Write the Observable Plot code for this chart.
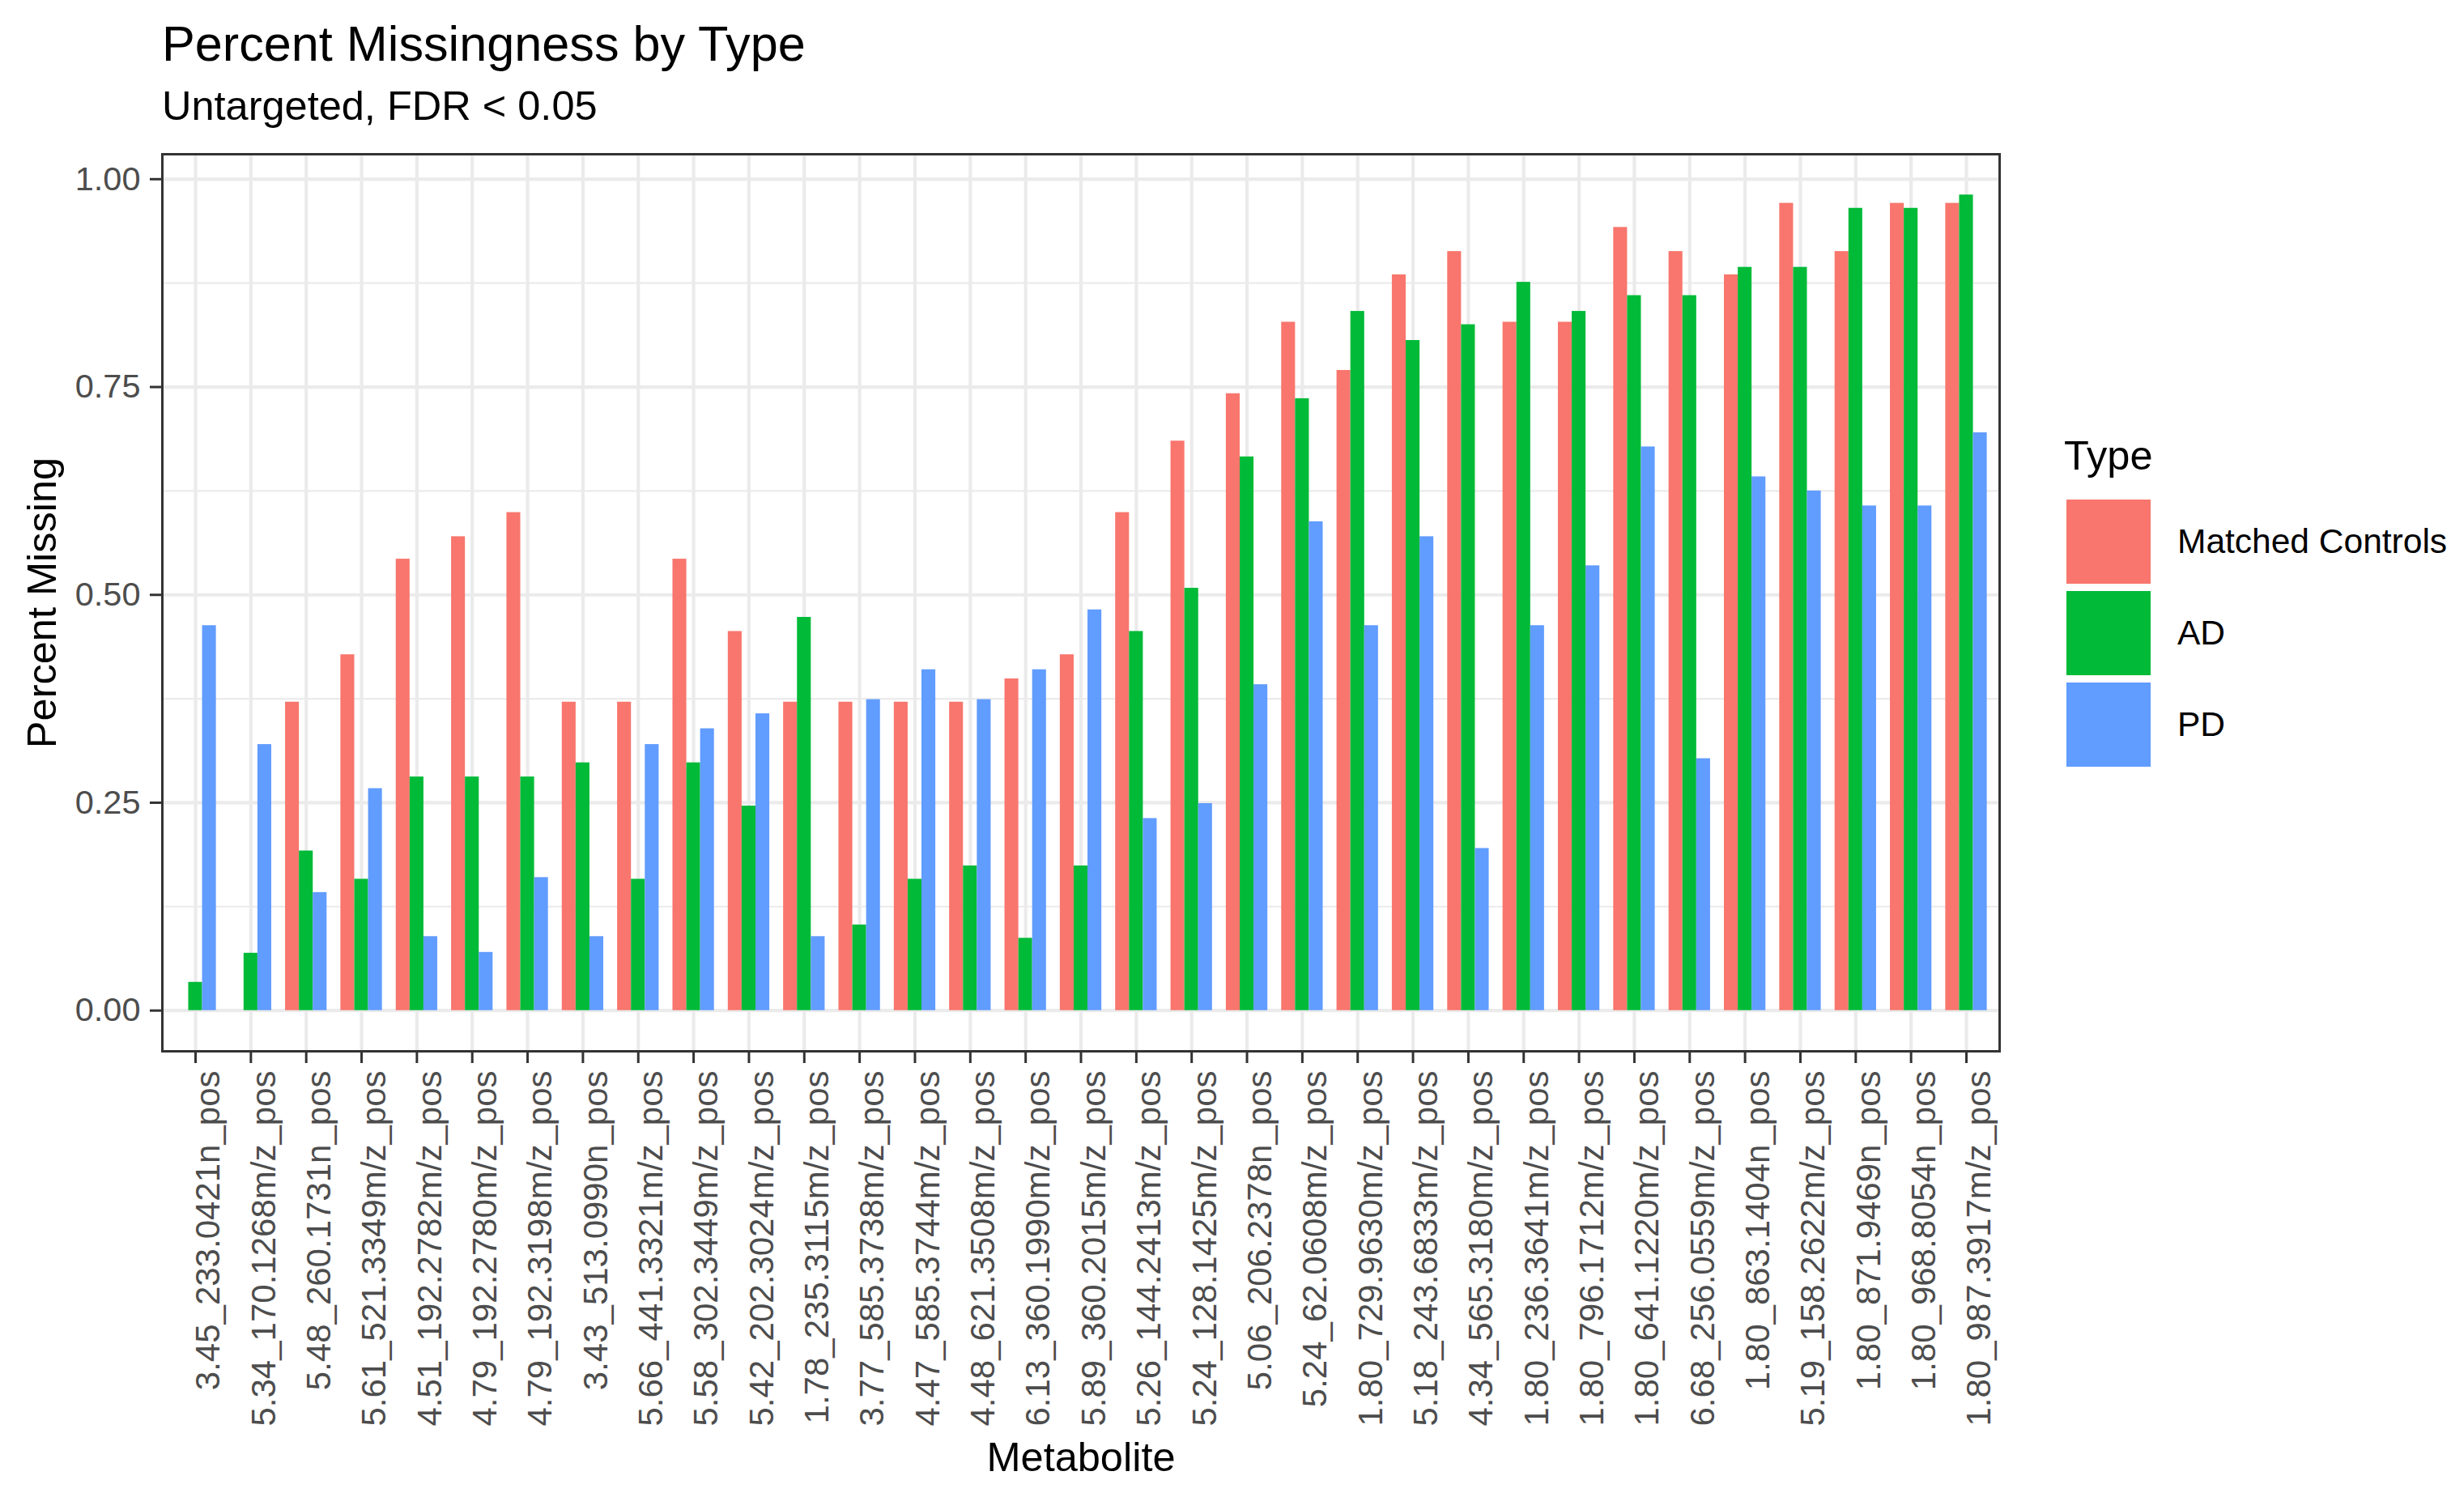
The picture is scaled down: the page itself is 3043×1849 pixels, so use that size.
<!DOCTYPE html>
<html>
<head>
<meta charset="utf-8">
<script src="https://cdn.jsdelivr.net/npm/d3@7"></script>
<script src="https://cdn.jsdelivr.net/npm/@observablehq/plot@0.6"></script>
<style>
  html, body { margin: 0; padding: 0; background: #fff; }
  #page { position: relative; width: 3043px; height: 1849px; font-family: "Liberation Sans", Arial, sans-serif; color: #000; overflow: hidden; }
  #title { position: absolute; left: 200px; top: 24px; font-size: 61.2px; line-height: 61.2px; white-space: nowrap; }
  #subtitle { position: absolute; left: 200px; top: 106px; font-size: 50.5px; line-height: 50.5px; white-space: nowrap; }
  #chart { position: absolute; left: 0; top: 160px; }
  #legend-title { position: absolute; left: 2549px; top: 538px; font-size: 50.5px; line-height: 50.5px; }
  .key { position: absolute; left: 2552px; width: 104px; height: 104px; }
  .lab { position: absolute; left: 2689px; font-size: 42.5px; line-height: 42.5px; white-space: nowrap; }
</style>
</head>
<body>
<div id="page">
  <div id="title">Percent Missingness by Type</div>
  <div id="subtitle">Untargeted, FDR &lt; 0.05</div>
  <div id="chart"></div>
  <div id="legend"></div>
</div>
<script>
// ---- data ----
const metabolites = [
  "3.45_233.0421n_pos", "5.34_170.1268m/z_pos", "5.48_260.1731n_pos", "5.61_521.3349m/z_pos",
  "4.51_192.2782m/z_pos", "4.79_192.2780m/z_pos", "4.79_192.3198m/z_pos", "3.43_513.0990n_pos",
  "5.66_441.3321m/z_pos", "5.58_302.3449m/z_pos", "5.42_202.3024m/z_pos", "1.78_235.3115m/z_pos",
  "3.77_585.3738m/z_pos", "4.47_585.3744m/z_pos", "4.48_621.3508m/z_pos", "6.13_360.1990m/z_pos",
  "5.89_360.2015m/z_pos", "5.26_144.2413m/z_pos", "5.24_128.1425m/z_pos", "5.06_206.2378n_pos",
  "5.24_62.0608m/z_pos", "1.80_729.9630m/z_pos", "5.18_243.6833m/z_pos", "4.34_565.3180m/z_pos",
  "1.80_236.3641m/z_pos", "1.80_796.1712m/z_pos", "1.80_641.1220m/z_pos", "6.68_256.0559m/z_pos",
  "1.80_863.1404n_pos", "5.19_158.2622m/z_pos", "1.80_871.9469n_pos", "1.80_968.8054n_pos",
  "1.80_987.3917m/z_pos"
];
const types = ["Matched Controls", "AD", "PD"];
const matchedControls = [
  0, 0, 0.371, 0.428, 0.543, 0.570, 0.599, 0.371, 0.371, 0.543, 0.456, 0.371,
  0.371, 0.371, 0.371, 0.399, 0.428, 0.599, 0.685, 0.742, 0.828, 0.770, 0.885, 0.913,
  0.828, 0.828, 0.942, 0.913, 0.885, 0.971, 0.913, 0.971, 0.971
];
const ad = [
  0.034, 0.069, 0.192, 0.158, 0.281, 0.281, 0.281, 0.298, 0.158, 0.298, 0.246, 0.473,
  0.103, 0.158, 0.174, 0.087, 0.174, 0.456, 0.508, 0.666, 0.736, 0.841, 0.806, 0.825,
  0.876, 0.841, 0.860, 0.860, 0.894, 0.894, 0.965, 0.965, 0.981
];
const pd = [
  0.463, 0.320, 0.142, 0.267, 0.089, 0.070, 0.160, 0.089, 0.320, 0.339, 0.357, 0.089,
  0.374, 0.410, 0.374, 0.410, 0.482, 0.231, 0.249, 0.392, 0.588, 0.463, 0.570, 0.195,
  0.463, 0.535, 0.678, 0.303, 0.642, 0.625, 0.607, 0.607, 0.695
];
const yTicks = [0, 0.25, 0.5, 0.75, 1];
const yMinorTicks = [0.125, 0.375, 0.625, 0.875];
const typeColors = ["#F8766D", "#00BA38", "#619CFF"];

// ---- table for the library ----
const series = [matchedControls, ad, pd];
const rows = metabolites.flatMap((m, i) =>
  types.map((t, k) => ({metabolite: m, type: t, value: series[k][i]}))
);

// ---- layout ----
const W = 3043, H = 1689;
const mL = 200, mR = 574, mT = 30, mB = 551;
const pIn = 0.25, pOut = 0.225;   // dodge width 0.75, ggplot discrete expansion 0.6
const step = (W - mL - mR) / (metabolites.length - pIn + 2 * pOut);
const barW = step * (1 - pIn) / types.length;
const gridColor = "#EBEBEB";

const barMark = (k) => Plot.barY(rows.filter(d => d.type === types[k]), {
  x: "metabolite",
  y: "value",
  fill: "type",
  insetLeft: k * barW,
  insetRight: (types.length - 1 - k) * barW
});

const chart = Plot.plot({
  width: W,
  height: H,
  marginLeft: mL,
  marginRight: mR,
  marginTop: mT,
  marginBottom: mB,
  style: {fontFamily: "'Liberation Sans', Arial, sans-serif", background: "white", overflow: "visible"},
  x: {type: "band", domain: metabolites, paddingInner: pIn, paddingOuter: pOut, align: 0.5, round: false},
  y: {domain: [-0.049, 1.03]},
  color: {domain: types, range: typeColors},
  marks: [
    Plot.ruleY(yMinorTicks, {stroke: gridColor, strokeWidth: 2.1}),
    Plot.ruleY(yTicks, {stroke: gridColor, strokeWidth: 4.2}),
    Plot.ruleX(metabolites, {x: d => d, stroke: gridColor, strokeWidth: 4.2}),
    barMark(0),
    barMark(1),
    barMark(2),
    Plot.frame({stroke: "#333333", strokeWidth: 3}),
    Plot.axisY(yTicks, {tickFormat: d3.format(".2f"), tickSize: 15, tickPadding: 12, fontSize: 41.5,
      fill: "#4D4D4D", stroke: "#333333", strokeWidth: 3, label: null}),
    Plot.axisX({tickRotate: -90, tickSize: 15, tickPadding: 9, fontSize: 42, lineAnchor: "top",
      fill: "#4D4D4D", stroke: "#333333", strokeWidth: 3, label: null}),
    Plot.text(["Percent Missing"], {text: d => d, frameAnchor: "left", dx: -148, rotate: -90,
      textAnchor: "middle", lineAnchor: "middle", fontSize: 50.5, fill: "#000"}),
    Plot.text(["Metabolite"], {text: d => d, frameAnchor: "bottom", dy: 502,
      textAnchor: "middle", lineAnchor: "middle", fontSize: 50.5, fill: "#000"})
  ]
});
document.getElementById("chart").appendChild(chart);

// ---- legend ----
const legend = document.getElementById("legend");
const lt = document.createElement("div");
lt.id = "legend-title";
lt.textContent = "Type";
legend.appendChild(lt);
const keyTops = [617, 730, 843];
types.forEach((t, k) => {
  const key = document.createElement("div");
  key.className = "key";
  key.style.top = keyTops[k] + "px";
  key.style.background = typeColors[k];
  legend.appendChild(key);
  const lab = document.createElement("div");
  lab.className = "lab";
  lab.style.top = (keyTops[k] + 31) + "px";
  lab.textContent = t;
  legend.appendChild(lab);
});
</script>
</body>
</html>
